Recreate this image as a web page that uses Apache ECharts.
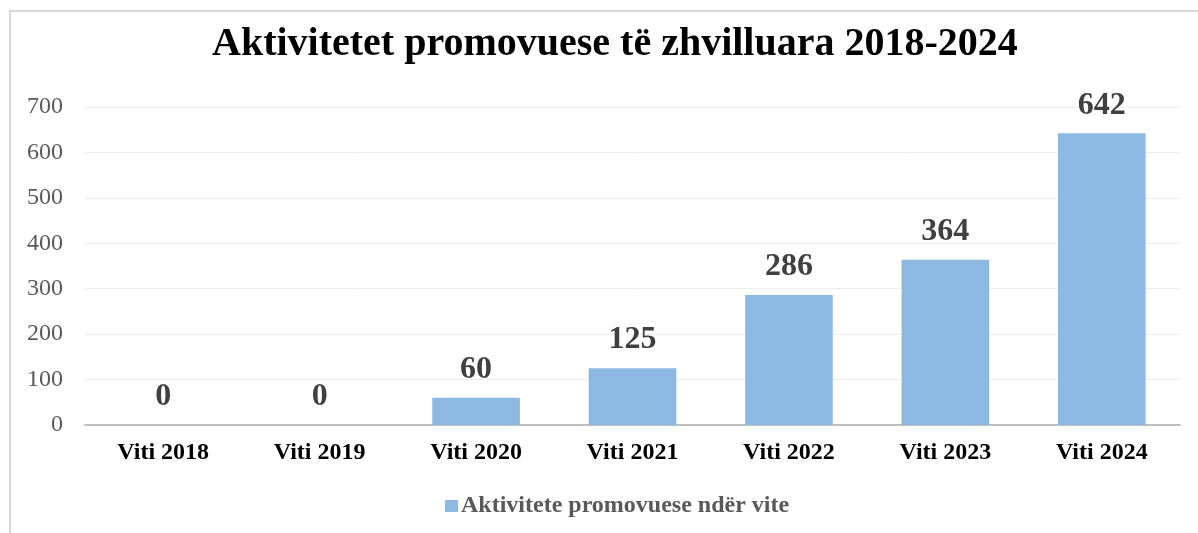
<!DOCTYPE html>
<html>
<head>
<meta charset="utf-8">
<script src="https://cdn.jsdelivr.net/npm/echarts@6/dist/echarts.min.js"></script>
<style>
html,body{margin:0;padding:0;background:#fff;}
#wrap{position:relative;width:1198px;height:533px;overflow:hidden;}
#chart{position:absolute;left:0;top:0;width:1198px;height:533px;}
#frame{position:absolute;left:9px;top:10px;width:1300px;height:600px;border-top:2px solid #d9d9d9;border-left:2px solid #d9d9d9;pointer-events:none;}
</style>
</head>
<body>
<div id="wrap">
    <div id="chart"></div>
    <div id="frame"></div>
</div>
<script>
var titleText = 'Aktivitetet promovuese të zhvilluara 2018-2024';
var seriesName = 'Aktivitete promovuese ndër vite';
var categories = ['Viti 2018','Viti 2019','Viti 2020','Viti 2021','Viti 2022','Viti 2023','Viti 2024'];
var values = [0, 0, 60, 125, 286, 364, 642];
var yTicks = {min: 0, max: 700, interval: 100};

var serif = '"Liberation Serif", "Times New Roman", serif';
var chart = echarts.init(document.getElementById('chart'));

var option = {
    animation: false,
    title: {
        text: titleText,
        left: 207,
        top: 20,
        textStyle: {
            fontFamily: serif,
            fontSize: 40,
            fontWeight: 'bold',
            color: '#000'
        }
    },
    grid: {
        left: 85,
        right: 18,
        top: 107,
        bottom: 108
    },
    legend: {
        data: [seriesName],
        left: 440,
        top: 489,
        itemWidth: 13,
        itemHeight: 12,
        itemGap: 4,
        icon: 'rect',
        textStyle: {
            fontFamily: serif,
            fontSize: 24,
            fontWeight: 'bold',
            color: '#595959',
            padding: [0, 0, 0, -2]
        }
    },
    xAxis: {
        type: 'category',
        data: categories,
        axisTick: {show: false},
        axisLine: {lineStyle: {color: '#bfbfbf', width: 2}},
        axisLabel: {
            interval: 0,
            margin: 16,
            fontFamily: serif,
            fontSize: 24,
            fontWeight: 'bold',
            color: '#000'
        }
    },
    yAxis: {
        type: 'value',
        min: yTicks.min,
        max: yTicks.max,
        interval: yTicks.interval,
        axisLine: {show: false},
        axisTick: {show: false},
        splitLine: {lineStyle: {color: '#ededed', width: 1}},
        axisLabel: {
            margin: 22,
            fontFamily: serif,
            fontSize: 24,
            color: '#595959'
        }
    },
    series: [{
        name: seriesName,
        type: 'bar',
        data: values,
        barWidth: '56%',
        itemStyle: {color: '#8db8e2'},
        label: {
            show: true,
            position: 'top',
            distance: 12,
            fontFamily: serif,
            fontSize: 32,
            fontWeight: 'bold',
            color: '#404040'
        }
    }]
};
chart.setOption(option);
</script>
</body>
</html>
